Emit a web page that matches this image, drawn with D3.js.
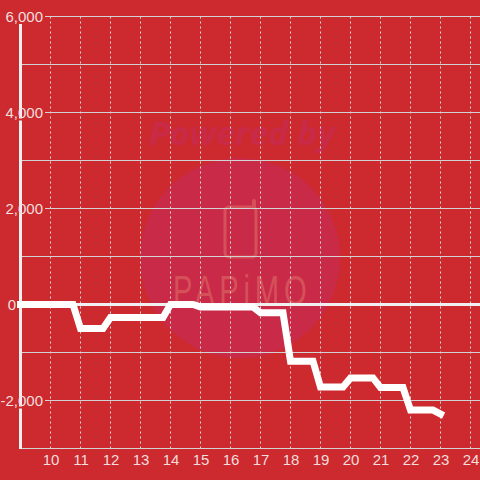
<!DOCTYPE html>
<html>
<head>
<meta charset="utf-8">
<script src="https://d3js.org/d3.v7.min.js"></script>
<style>
	html, body { margin: 0; padding: 0; background: #cc2a2f; overflow: hidden; }
	svg { display: block; }
	text { font-family: 'Liberation Sans', sans-serif; }
</style>
</head>
<body>
<div id="chart"></div>
<script>
const hours = [9, 10.75, 11, 11.75, 12, 13.75, 14, 14.75, 15, 16.75, 17, 17.75, 18, 18.75, 19, 19.75, 20, 20.75, 21, 21.75, 22, 22.75, 23];
const balance = [0, 0, -500, -500, -270, -270, 0, 0, -50, -50, -170, -170, -1180, -1180, -1720, -1720, -1530, -1530, -1730, -1730, -2200, -2200, -2280];
const hourTicks = [10, 11, 12, 13, 14, 15, 16, 17, 18, 19, 20, 21, 22, 23, 24];
const gridTicks = [-3000, -1000, 1000, 3000, 5000];
const labelTicks = [-2000, 0, 2000, 4000, 6000];

const width = 480;
const height = 480;

const svg = d3
	.select('#chart')
	.append('svg')
	.attr('width', width)
	.attr('height', height);

const x = d3.scaleLinear().domain([9, 25]).range([20.5, 500.5]);
const y = d3.scaleLinear().domain([-3000, 6000]).range([448.5, 16.5]);

// watermark
const mark = svg.append('g');

mark
	.append('circle')
	.attr('cx', 240)
	.attr('cy', 258)
	.attr('r', 100)
	.attr('fill', '#c92a47');

mark
	.append('text')
	.attr('x', 149)
	.attr('y', 145)
	.attr('textLength', 186)
	.attr('lengthAdjust', 'spacingAndGlyphs')
	.style('font-family', "'Open Sans', sans-serif")
	.style('font-size', '32px')
	.style('font-weight', 'bold')
	.style('font-style', 'italic')
	.attr('fill', '#c92a47')
	.text('Powered by');

mark
	.append('rect')
	.attr('x', 225)
	.attr('y', 207)
	.attr('width', 31)
	.attr('height', 50)
	.attr('rx', 4)
	.attr('fill', 'none')
	.attr('stroke', '#d6505a')
	.attr('stroke-width', 3);

mark
	.append('line')
	.attr('x1', 254)
	.attr('y1', 207)
	.attr('x2', 254)
	.attr('y2', 201)
	.attr('stroke', '#d6505a')
	.attr('stroke-width', 4)
	.attr('stroke-linecap', 'round');

mark
	.append('text')
	.attr('transform', 'translate(173,305) scale(0.68,1)')
	.style('font-family', "'Liberation Sans Narrow', 'Liberation Sans', sans-serif")
	.style('font-size', '43px')
	.style('letter-spacing', '7px')
	.attr('fill', '#d6505a')
	.text('PAPiMO');

// vertical dotted grid
svg
	.append('g')
	.selectAll('line')
	.data(hourTicks)
	.join('line')
	.attr('x1', (d) => x(d))
	.attr('x2', (d) => x(d))
	.attr('y1', y(6000))
	.attr('y2', y(-3000))
	.attr('stroke', '#dcdcdc')
	.attr('stroke-dasharray', '2,3');

// unlabelled horizontal lines run up to the axis, labelled ones stop at the text
svg
	.append('g')
	.selectAll('line')
	.data(gridTicks)
	.join('line')
	.attr('x1', 22)
	.attr('x2', width)
	.attr('y1', (d) => y(d))
	.attr('y2', (d) => y(d))
	.attr('stroke', '#d2d2d2');

svg
	.append('g')
	.selectAll('line')
	.data(labelTicks.filter((d) => d !== 0))
	.join('line')
	.attr('x1', 45)
	.attr('x2', width)
	.attr('y1', (d) => y(d))
	.attr('y2', (d) => y(d))
	.attr('stroke', '#d2d2d2');

// zero line and left axis stripe
svg
	.append('line')
	.attr('x1', 20)
	.attr('x2', width)
	.attr('y1', y(0))
	.attr('y2', y(0))
	.attr('stroke', '#f0f0f0')
	.attr('stroke-width', 3);

svg
	.append('line')
	.attr('x1', x(9))
	.attr('x2', x(9))
	.attr('y1', 24)
	.attr('y2', 449)
	.attr('stroke', '#f0f0f0')
	.attr('stroke-width', 3);

// small gaps the label boxes leave in the stripe
svg
	.append('g')
	.selectAll('rect')
	.data(labelTicks.filter((d) => d === 4000 || d === -2000))
	.join('rect')
	.attr('x', 18)
	.attr('y', (d) => y(d) + 6)
	.attr('width', 5)
	.attr('height', 2)
	.attr('fill', '#cc2a2f');

// series
const line = d3
	.line()
	.x((d, i) => x(hours[i]))
	.y((d) => y(d));

svg
	.append('path')
	.attr('d', line(balance))
	.attr('fill', 'none')
	.attr('stroke', '#ffffff')
	.attr('stroke-width', 7)
	.attr('stroke-linecap', 'square');

// axis labels
const xAxis = d3
	.axisBottom(x)
	.tickValues(hourTicks)
	.tickSize(0)
	.tickPadding(0)
	.tickFormat((d) => d);

const yAxis = d3
	.axisLeft(y)
	.tickValues(labelTicks)
	.tickSize(0)
	.tickPadding(0)
	.tickFormat((d) => d3.format(',')(d).replace('\u2212', '-'));

const xAxisGroup = svg
	.append('g')
	.attr('transform', 'translate(0,454)')
	.call(xAxis);

const yAxisGroup = svg
	.append('g')
	.attr('transform', 'translate(43,0)')
	.call(yAxis);

[xAxisGroup, yAxisGroup].forEach((g) => {
	g.select('.domain').remove();
	g.selectAll('text')
		.attr('fill', '#f3dede')
		.style('font-family', "'Liberation Sans', sans-serif")
		.style('font-size', '15px');
});

// the 0 label sits left of the axis stripe
yAxisGroup
	.selectAll('text')
	.filter((d) => d === 0)
	.attr('x', -27);
</script>
</body>
</html>
